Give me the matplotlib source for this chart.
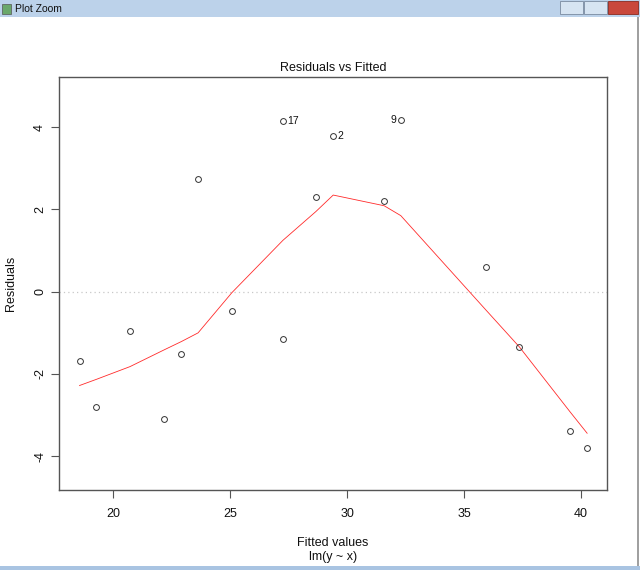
"""
Residuals vs Fitted - recreation of an R plot.lm window
"""

import matplotlib
matplotlib.use('Agg')
import matplotlib.pyplot as plt
from matplotlib.patches import Rectangle

plt.rcParams['font.family'] = ['Liberation Sans', 'DejaVu Sans']

# residual points (fitted, residual)
fitted = [18.55, 19.27, 20.71, 22.18, 22.91, 23.62, 25.07, 27.25, 27.24,
          28.66, 29.40, 31.58, 32.29, 35.94, 37.36, 39.53, 40.26]
resid = [-1.69, -2.81, -0.96, -3.10, -1.52, 2.74, -0.48, -1.14, 4.15,
         2.30, 3.79, 2.21, 4.18, 0.60, -1.34, -3.38, -3.80]

# lowess smooth
smooth_x = [18.55, 19.27, 20.71, 22.18, 22.91, 23.62, 25.07, 27.25,
            28.66, 29.40, 31.58, 32.29, 35.94, 37.36, 39.53, 40.26]
smooth_y = [-2.28, -2.13, -1.82, -1.41, -1.21, -1.00, -0.02, 1.25,
            1.95, 2.35, 2.09, 1.85, -0.45, -1.34, -2.92, -3.44]

# labelled outliers: (label, x, y, side)
outliers = [('17', 27.24, 4.15, 'right'),
            ('2', 29.40, 3.79, 'right'),
            ('9', 32.29, 4.18, 'left')]

x_ticks = [20, 25, 30, 35, 40]
y_ticks = [-4, -2, 0, 2, 4]

W, H = 640, 570
fig = plt.figure(figsize=(W / 100, H / 100), dpi=100)

# window chrome
fig.patches.append(Rectangle((0, 1 - 17 / H), 1, 17 / H, transform=fig.transFigure,
                             facecolor='#bcd2ea', edgecolor='none'))
fig.patches.append(Rectangle((0, 0), 1, 4 / H, transform=fig.transFigure,
                             facecolor='#a9c4e2', edgecolor='none'))
fig.patches.append(Rectangle((637 / W, 4 / H), 1.5 / W, 1 - 21 / H, transform=fig.transFigure,
                             facecolor='#a0a0a0', edgecolor='none'))
fig.patches.append(Rectangle((2 / W, 1 - 14 / H), 9 / W, 10 / H, transform=fig.transFigure,
                             facecolor='#6aa86a', edgecolor='#555555', lw=0.5))
fig.text(15 / W, 1 - 9 / H, 'Plot Zoom', fontsize=7.5, va='center', ha='left', color='#111111')
fig.patches.append(Rectangle((560 / W, 1 - 14 / H), 23 / W, 13 / H, transform=fig.transFigure,
                             facecolor='#d6e4f2', edgecolor='#7a8aa0', lw=0.6))
fig.patches.append(Rectangle((584 / W, 1 - 14 / H), 23 / W, 13 / H, transform=fig.transFigure,
                             facecolor='#d6e4f2', edgecolor='#7a8aa0', lw=0.6))
fig.patches.append(Rectangle((608 / W, 1 - 14 / H), 30 / W, 13 / H, transform=fig.transFigure,
                             facecolor='#c9483c', edgecolor='#8a2a20', lw=0.6))

# plot region
left, right, top, bottom = 58.5, 607, 77, 490
ax = fig.add_axes([left / W, 1 - bottom / H, (right - left) / W, (bottom - top) / H])

ax.axhline(0, color='#c8c8c8', lw=0.9, ls=(0, (1, 2.5)), zorder=1)
ax.plot(smooth_x, smooth_y, color='#ff2a2a', lw=0.6, zorder=2)
ax.plot(fitted, resid, 'o', ms=4.2, mfc='none', mec='#333333', mew=0.7, zorder=3)

for lab, x, y, side in outliers:
    dx = 3 if side == 'right' else -3
    ax.annotate(lab, (x, y), xytext=(dx, 0), textcoords='offset points',
                ha='left' if side == 'right' else 'right', va='center',
                fontsize=7.5, color='#111111')

ax.set_xlim(17.65, 41.11)
ax.set_ylim(-4.82, 5.22)
ax.set_xticks(x_ticks)
ax.set_yticks(y_ticks)
ax.set_yticklabels([str(v) for v in y_ticks], rotation=90, va='center')
ax.tick_params(direction='out', length=6, width=0.8, color='#555555',
               labelsize=9, labelcolor='#111111')
ax.tick_params(axis='x', pad=7)
ax.tick_params(axis='y', pad=3)
for sp in ax.spines.values():
    sp.set_color('#555555')
    sp.set_linewidth(1.0)

ax.set_title('Residuals vs Fitted', fontsize=9, pad=4, color='#111111')
ax.set_ylabel('Residuals', fontsize=9, labelpad=12, color='#111111')
fig.text((left + right) / 2 / W, 1 - 543 / H, 'Fitted values', ha='center', va='center',
         fontsize=9, color='#111111')
fig.text((left + right) / 2 / W, 1 - 557 / H, 'lm(y ~ x)', ha='center', va='center',
         fontsize=9, color='#111111')

fig.savefig('out.png', dpi=100)
